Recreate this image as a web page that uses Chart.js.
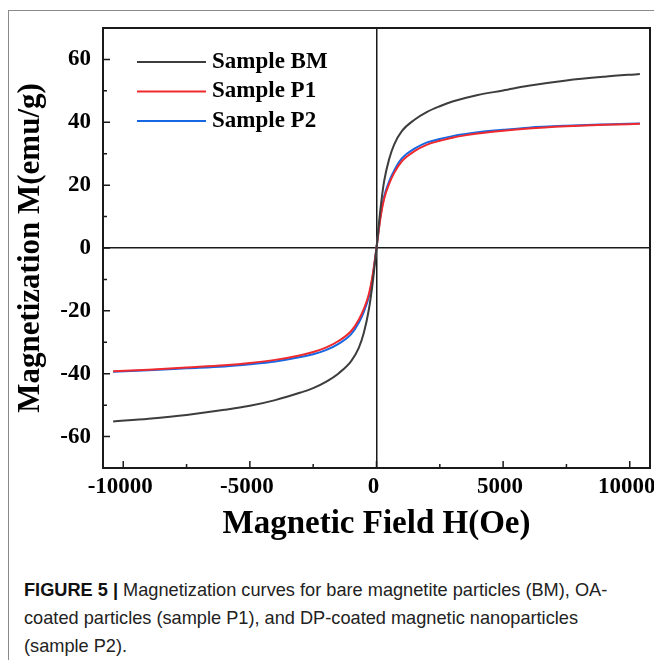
<!DOCTYPE html>
<html>
<head>
<meta charset="utf-8">
<script src="https://cdn.jsdelivr.net/npm/chart.js@4.4.1/dist/chart.umd.min.js"></script>
<style>
  body { margin: 0; background: #fff; }
  .frame { position: absolute; left: 8px; top: 10px; width: 660px; height: 660px;
           border-top: 1px solid #8a8a8a; border-left: 1px solid #8a8a8a; }
  #mag-chart { position: absolute; left: 0; top: 0; }
  .caption { position: absolute; left: 24px; top: 576px; width: 630px;
             font-family: 'Liberation Sans', Arial, sans-serif; font-size: 18.2px;
             line-height: 28px; color: #222; white-space: nowrap; }
  .caption b { color: #111; }
</style>
</head>
<body>
<div class="frame"></div>
<canvas id="mag-chart" width="654" height="550"></canvas>
<div class="caption"><b>FIGURE 5 |</b> Magnetization curves for bare magnetite particles (BM), OA-<br>coated particles (sample P1), and DP-coated magnetic nanoparticles<br>(sample P2).</div>
<script>
// Magnetic field values (Oe)
const fieldOe = [-10400, -9000, -7500, -6000, -5000, -4000, -3000, -2500, -2000, -1500, -1000, -700, -500, -300, -150, 0,
                 150, 300, 500, 700, 1000, 1500, 2000, 2500, 3000, 4000, 5000, 6000, 7500, 9000, 10400];

// Magnetization (emu/g) for each sample
const sampleBM = [-55.2, -54.3, -53.1, -51.5, -50.2, -48.4, -46.0, -44.6, -42.6, -39.9, -36.0, -31.8, -27.0, -19.5, -11.0, 0,
                  12.0, 21.2, 28.3, 33.0, 37.2, 40.8, 43.3, 45.1, 46.6, 48.7, 50.1, 51.6, 53.3, 54.5, 55.4];
const sampleP1 = [-39.2, -38.7, -38.0, -37.3, -36.6, -35.6, -34.1, -33.1, -31.7, -29.6, -26.4, -22.8, -19.4, -14.6, -8.5, 0,
                  9.2, 15.6, 20.4, 23.9, 27.6, 30.8, 32.9, 34.1, 35.1, 36.4, 37.3, 38.0, 38.7, 39.2, 39.5];
const sampleP2 = [-39.4, -38.9, -38.3, -37.7, -37.0, -36.1, -34.7, -33.8, -32.5, -30.5, -27.4, -23.8, -20.3, -15.4, -9.0, 0,
                  9.8, 16.3, 21.2, 24.7, 28.5, 31.6, 33.6, 34.7, 35.6, 36.8, 37.6, 38.3, 38.9, 39.3, 39.6];

const seriesLabels = ['Sample BM', 'Sample P1', 'Sample P2'];
const seriesColors = ['#3d3d3d', '#ee2a2e', '#1766e3'];

// Tick marks
const xTicks = [-10000, -5000, 0, 5000, 10000];
const xMinorTicks = [-7500, -2500, 2500, 7500];
const yTicks = [-60, -40, -20, 0, 20, 40, 60];
const yMinorTicks = [-50, -30, -10, 10, 30, 50];

const serif = "'Liberation Serif', 'Times New Roman', serif";
Chart.defaults.color = '#000';

let toPoints = (ys) => ys.map((y, i) => ({ x: fieldOe[i], y: y }));

// Frame, inward ticks and the legend inside the plot
let framePlugin = {
    id: 'framePlugin',
    afterDraw(chart) {
        const ctx = chart.ctx;
        const area = chart.chartArea;
        const xs = chart.scales.x, ys = chart.scales.y;
        ctx.save();
        ctx.strokeStyle = '#1a1a1a';
        ctx.lineWidth = 2;
        ctx.strokeRect(area.left, area.top, area.right - area.left, area.bottom - area.top);

        ctx.lineWidth = 1.5;
        ctx.beginPath();
        xTicks.forEach(v => { let p = xs.getPixelForValue(v); ctx.moveTo(p, area.bottom); ctx.lineTo(p, area.bottom - 7); });
        xMinorTicks.forEach(v => { let p = xs.getPixelForValue(v); ctx.moveTo(p, area.bottom); ctx.lineTo(p, area.bottom - 4); });
        yTicks.forEach(v => { let p = ys.getPixelForValue(v); ctx.moveTo(area.left, p); ctx.lineTo(area.left + 7, p); });
        yMinorTicks.forEach(v => { let p = ys.getPixelForValue(v); ctx.moveTo(area.left, p); ctx.lineTo(area.left + 4, p); });
        ctx.stroke();

        // legend
        ctx.font = 'bold 23px ' + serif;
        ctx.textBaseline = 'middle';
        chart.data.datasets.forEach((ds, i) => {
            let y = area.top + 34 + i * 29.5;
            ctx.strokeStyle = ds.borderColor;
            ctx.lineWidth = 2;
            ctx.beginPath();
            ctx.moveTo(area.left + 34, y);
            ctx.lineTo(area.left + 103, y);
            ctx.stroke();
            ctx.fillStyle = '#000';
            ctx.fillText(ds.label, area.left + 109, y);
        });
        ctx.restore();
    }
};

let zeroLine = (c) => (c.tick && c.tick.value === 0) ? '#1a1a1a' : 'rgba(0,0,0,0)';
let noScalePadding = (s) => { s.paddingLeft = 0; s.paddingRight = 0; s.paddingTop = 0; s.paddingBottom = 0; };

let magChart = new Chart(document.getElementById('mag-chart').getContext('2d'), {
    type: 'line',
    data: {
        datasets: [sampleBM, sampleP1, sampleP2].map((s, i) => ({
            label: seriesLabels[i],
            data: toPoints(s),
            borderColor: seriesColors[i],
            borderWidth: 2,
            pointRadius: 0,
            cubicInterpolationMode: 'monotone',
            fill: false
        }))
    },
    options: {
        responsive: false,
        animation: false,
        layout: { autoPadding: false, padding: { top: 28, right: 4, left: 0, bottom: 0 } },
        plugins: {
            legend: { display: false },
            tooltip: { enabled: false }
        },
        scales: {
            x: {
                type: 'linear',
                min: -10800,
                max: 10800,
                afterBuildTicks: s => { s.ticks = xTicks.map(v => ({ value: v })); },
                afterFit: s => { s.height = 82; noScalePadding(s); },
                grid: { color: zeroLine, lineWidth: 1.5, drawTicks: false },
                border: { display: false },
                ticks: { font: { family: serif, size: 23, weight: 'bold' }, padding: 5, maxRotation: 0,
                         labelOffset: -3, callback: v => String(v) },
                title: { display: true, text: 'Magnetic Field H(Oe)',
                         font: { family: serif, size: 33, weight: 'bold', lineHeight: 1 },
                         padding: { top: 0, bottom: 9 } }
            },
            y: {
                min: -70,
                max: 70,
                afterBuildTicks: s => { s.ticks = yTicks.map(v => ({ value: v })); },
                afterFit: s => { s.width = 103; noScalePadding(s); },
                grid: { color: zeroLine, lineWidth: 1.5, drawTicks: false },
                border: { display: false },
                ticks: { font: { family: serif, size: 23, weight: 'bold' }, padding: 12,
                         callback: v => String(v) },
                title: { display: true, text: 'Magnetization M(emu/g)',
                         font: { family: serif, size: 31, weight: 'bold', lineHeight: 1 },
                         padding: { top: 15, bottom: 0 } }
            }
        }
    },
    plugins: [framePlugin]
});
</script>
</body>
</html>
